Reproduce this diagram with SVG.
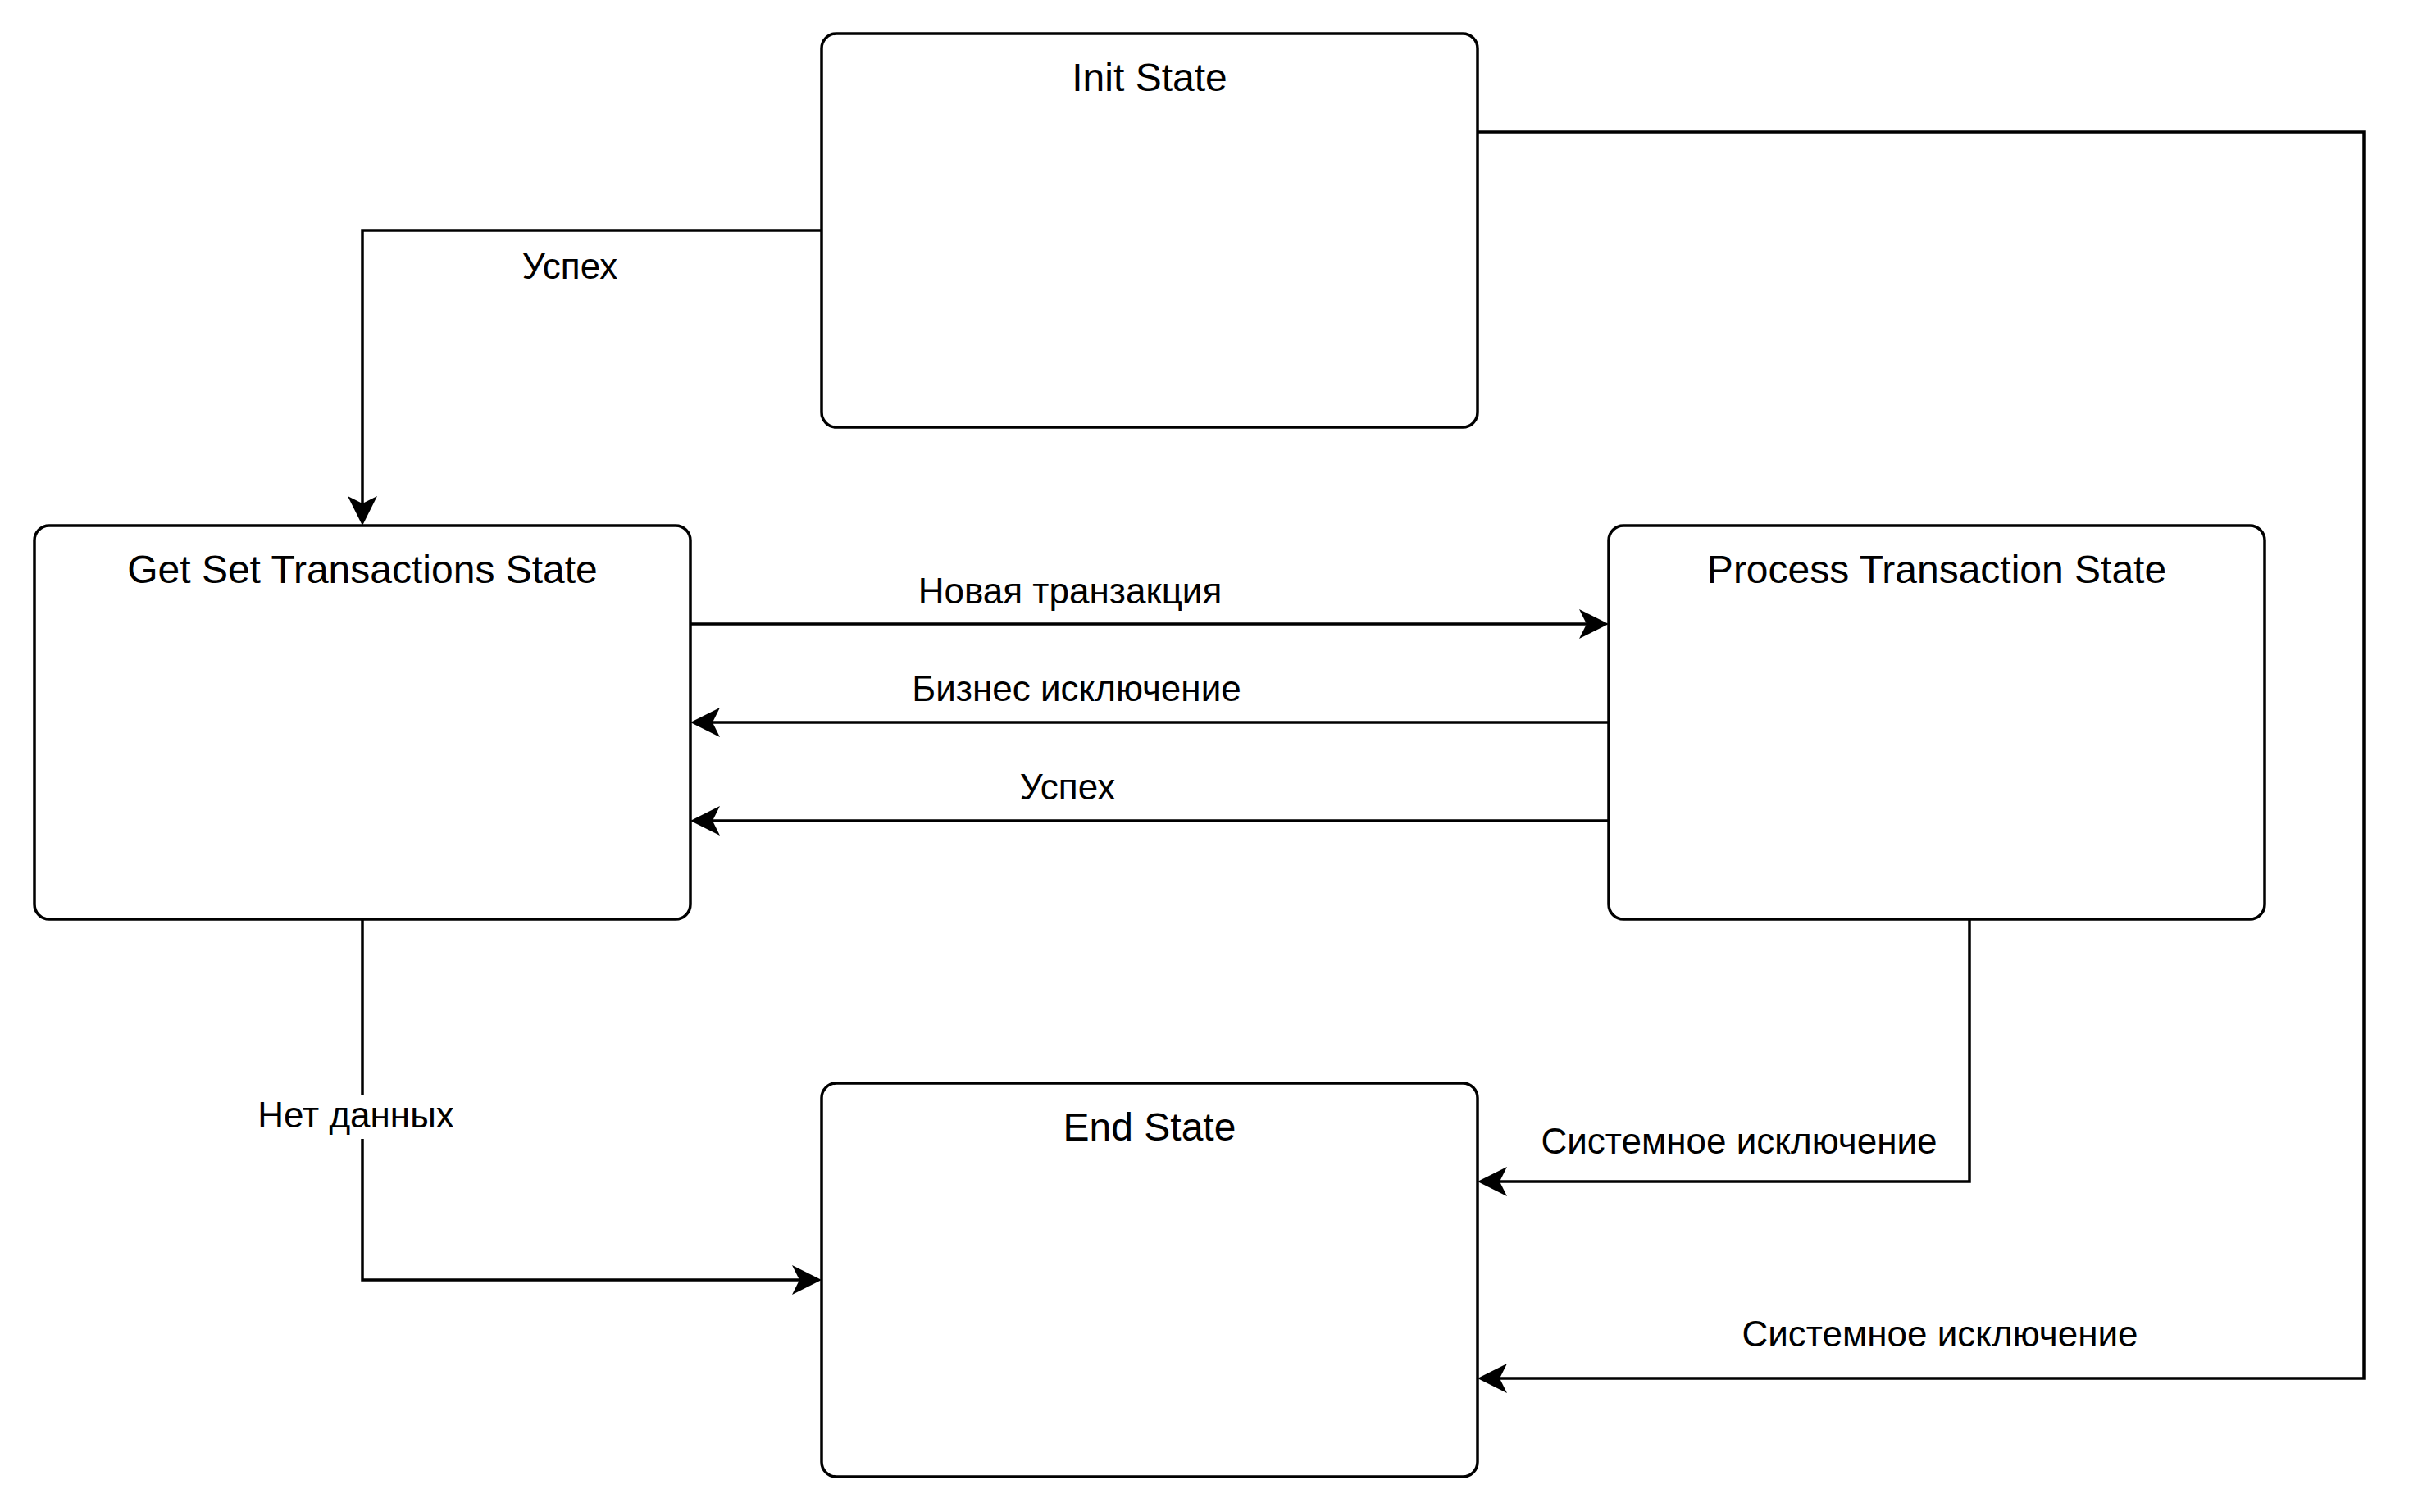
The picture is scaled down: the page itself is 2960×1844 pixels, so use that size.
<svg xmlns="http://www.w3.org/2000/svg" width="2960" height="1844" viewBox="0 0 2960 1844">
  <style>
    .node rect { fill: #ffffff; stroke: #000000; stroke-width: 3.5; }
    .title { font-family: "Liberation Sans", Arial, sans-serif; font-size: 48px; fill: #000000; text-anchor: middle; }
    .edge { fill: none; stroke: #000000; stroke-width: 3.5; marker-end: url(#arrow); }
    .label { font-family: "Liberation Sans", Arial, sans-serif; font-size: 44px; fill: #000000; text-anchor: middle; }
  </style>
  <defs>
    <marker id="arrow" viewBox="0 0 36 36" refX="9" refY="18" markerWidth="36" markerHeight="36" markerUnits="userSpaceOnUse" orient="auto">
      <path d="M36,18 L0,0 L9,18 L0,36 Z" fill="#000000"/>
    </marker>
  </defs>
  <rect x="0" y="0" width="2960" height="1844" fill="#ffffff"/>

  <g id="connectors">
    <path class="edge" d="M1002,281 H442 V614"/>
    <text class="label" x="695" y="340">Успех</text>

    <path class="edge" d="M842,761 H1935"/>
    <text class="label" x="1305" y="736">Новая транзакция</text>

    <path class="edge" d="M1962,881 H869"/>
    <text class="label" x="1313" y="855">Бизнес исключение</text>

    <path class="edge" d="M1962,1001 H869"/>
    <text class="label" x="1302" y="975">Успех</text>

    <path class="edge" d="M442,1121 V1561 H975"/>
    <rect x="314" y="1336" width="240" height="53" fill="#ffffff"/>
    <text class="label" x="434" y="1375">Нет данных</text>

    <path class="edge" d="M2402,1121 V1441 H1829"/>
    <text class="label" x="2121" y="1407">Системное исключение</text>

    <path class="edge" d="M1802,161 H2883 V1681 H1829"/>
    <text class="label" x="2366" y="1642">Системное исключение</text>
  </g>

  <g id="init-state" class="node">
    <rect x="1002" y="41" width="800" height="480" rx="18" ry="18"/>
    <text class="title" x="1402" y="111">Init State</text>
  </g>
  <g id="get-set-transactions-state" class="node">
    <rect x="42" y="641" width="800" height="480" rx="18" ry="18"/>
    <text class="title" x="442" y="711">Get Set Transactions State</text>
  </g>
  <g id="process-transaction-state" class="node">
    <rect x="1962" y="641" width="800" height="480" rx="18" ry="18"/>
    <text class="title" x="2362" y="711">Process Transaction State</text>
  </g>
  <g id="end-state" class="node">
    <rect x="1002" y="1321" width="800" height="480" rx="18" ry="18"/>
    <text class="title" x="1402" y="1391">End State</text>
  </g>
</svg>
